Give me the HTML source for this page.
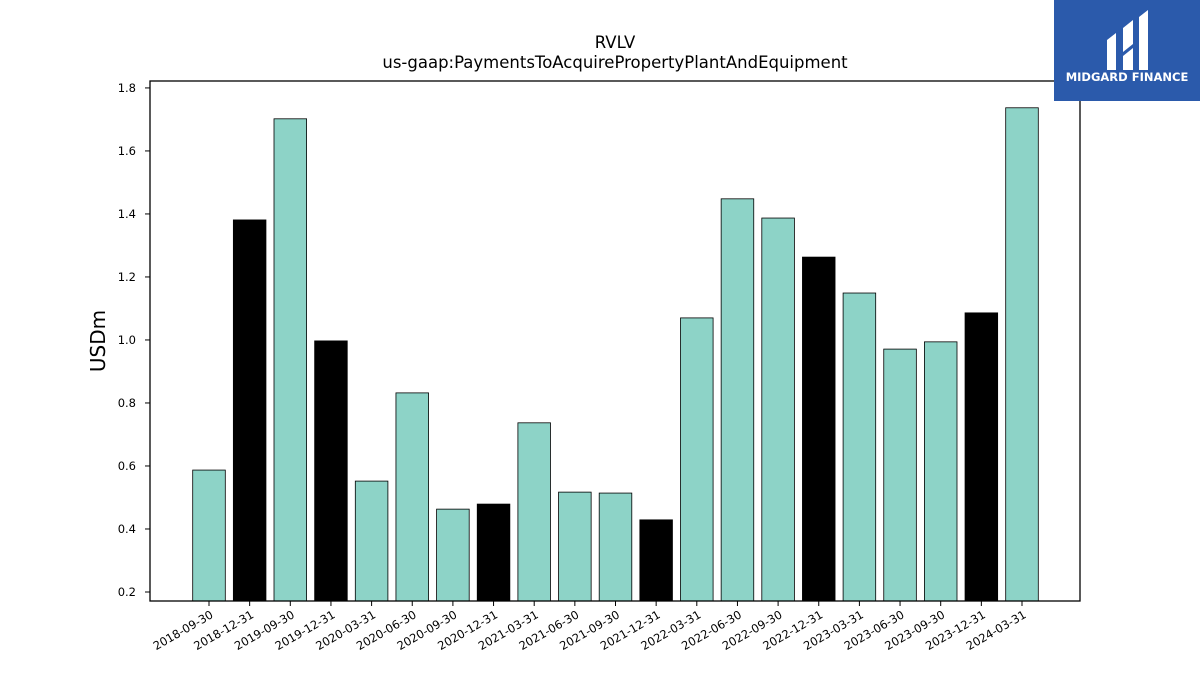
<!DOCTYPE html>
<html><head><meta charset="utf-8"><style>
body{margin:0;background:#fff;width:1200px;height:675px;overflow:hidden;font-family:"DejaVu Sans","Liberation Sans",sans-serif}
</style></head><body>
<svg id="chart" width="1200" height="675" xmlns="http://www.w3.org/2000/svg" font-family="DejaVu Sans, Liberation Sans, sans-serif">
<text x="615" y="48" text-anchor="middle" font-size="16.5">RVLV</text>
<text x="615" y="68" text-anchor="middle" font-size="16.5">us-gaap:PaymentsToAcquirePropertyPlantAndEquipment</text>
<text transform="translate(105,341) rotate(-90)" text-anchor="middle" font-size="20">USDm</text>
<g id="bars"></g><g id="yticks"></g><g id="xticks"></g>
<rect x="150" y="81" width="930" height="520" fill="none" stroke="#000" stroke-width="1.3"/>
<g>
<rect x="1054" y="0" width="146" height="101" fill="#2b5aab"/>
<path d="M1107 40 L1116 33 L1116 70 L1107 70 Z M1123 28 L1133 20 L1133 44 L1123 52 Z M1123 56 L1133 48 L1133 70 L1123 70 Z M1139 17 L1148 10 L1148 70 L1139 70 Z" fill="#fff"/>
<text x="1127" y="81" text-anchor="middle" font-size="11.5" font-weight="bold" fill="#fff">MIDGARD FINANCE</text>
</g>
</svg>
<script>
const categories=["2018-09-30","2018-12-31","2019-09-30","2019-12-31","2020-03-31","2020-06-30","2020-09-30","2020-12-31","2021-03-31","2021-06-30","2021-09-30","2021-12-31","2022-03-31","2022-06-30","2022-09-30","2022-12-31","2023-03-31","2023-06-30","2023-09-30","2023-12-31","2024-03-31"];
const values=[0.587,1.381,1.702,0.997,0.552,0.832,0.463,0.479,0.737,0.517,0.514,0.429,1.07,1.448,1.387,1.263,1.149,0.971,0.994,1.086,1.737];
const yTicks=[0.2,0.4,0.6,0.8,1.0,1.2,1.4,1.6,1.8];
const ns="http://www.w3.org/2000/svg";
const yMin=0.1714,yMax=1.822,plotTop=81,plotBot=601;
function y(v){return plotBot-(v-yMin)/(yMax-yMin)*(plotBot-plotTop);}
const step=40.65,x0=209;
function x(i){return x0+i*step;}
const bars=document.getElementById('bars'),yt=document.getElementById('yticks'),xt=document.getElementById('xticks');
values.forEach((v,i)=>{
 const r=document.createElementNS(ns,'rect');
 
 
 r.setAttribute('x',x(i)-16.3);r.setAttribute('width',32.6);
 r.setAttribute('y',y(v));r.setAttribute('height',plotBot-y(v));
 r.setAttribute('fill',categories[i].endsWith('12-31')?'#000':'#8dd3c7');
 r.setAttribute('stroke','#000');r.setAttribute('stroke-width','0.8');
 bars.appendChild(r);
 const l=document.createElementNS(ns,'line');
 
 
 l.setAttribute('x1',x(i));l.setAttribute('x2',x(i));l.setAttribute('y1',plotBot);l.setAttribute('y2',plotBot+5);l.setAttribute('stroke','#000');
 xt.appendChild(l);
 const t=document.createElementNS(ns,'text');
 
 
 t.setAttribute('font-size','11.5');t.setAttribute('text-anchor','end');
 t.setAttribute('transform','translate('+(x(i)+5)+','+(plotBot+16)+') rotate(-30)');
 t.textContent=categories[i];xt.appendChild(t);
});
yTicks.forEach(v=>{
 const l=document.createElementNS(ns,'line');
 
 
 l.setAttribute('x1',145);l.setAttribute('x2',150);l.setAttribute('y1',y(v));l.setAttribute('y2',y(v));l.setAttribute('stroke','#000');
 yt.appendChild(l);
 const t=document.createElementNS(ns,'text');
 
 
 t.setAttribute('font-size','11.5');t.setAttribute('text-anchor','end');
 t.setAttribute('x',136);t.setAttribute('y',y(v)+4);
 t.textContent=v.toFixed(1);yt.appendChild(t);
});
</script>
</body></html>
